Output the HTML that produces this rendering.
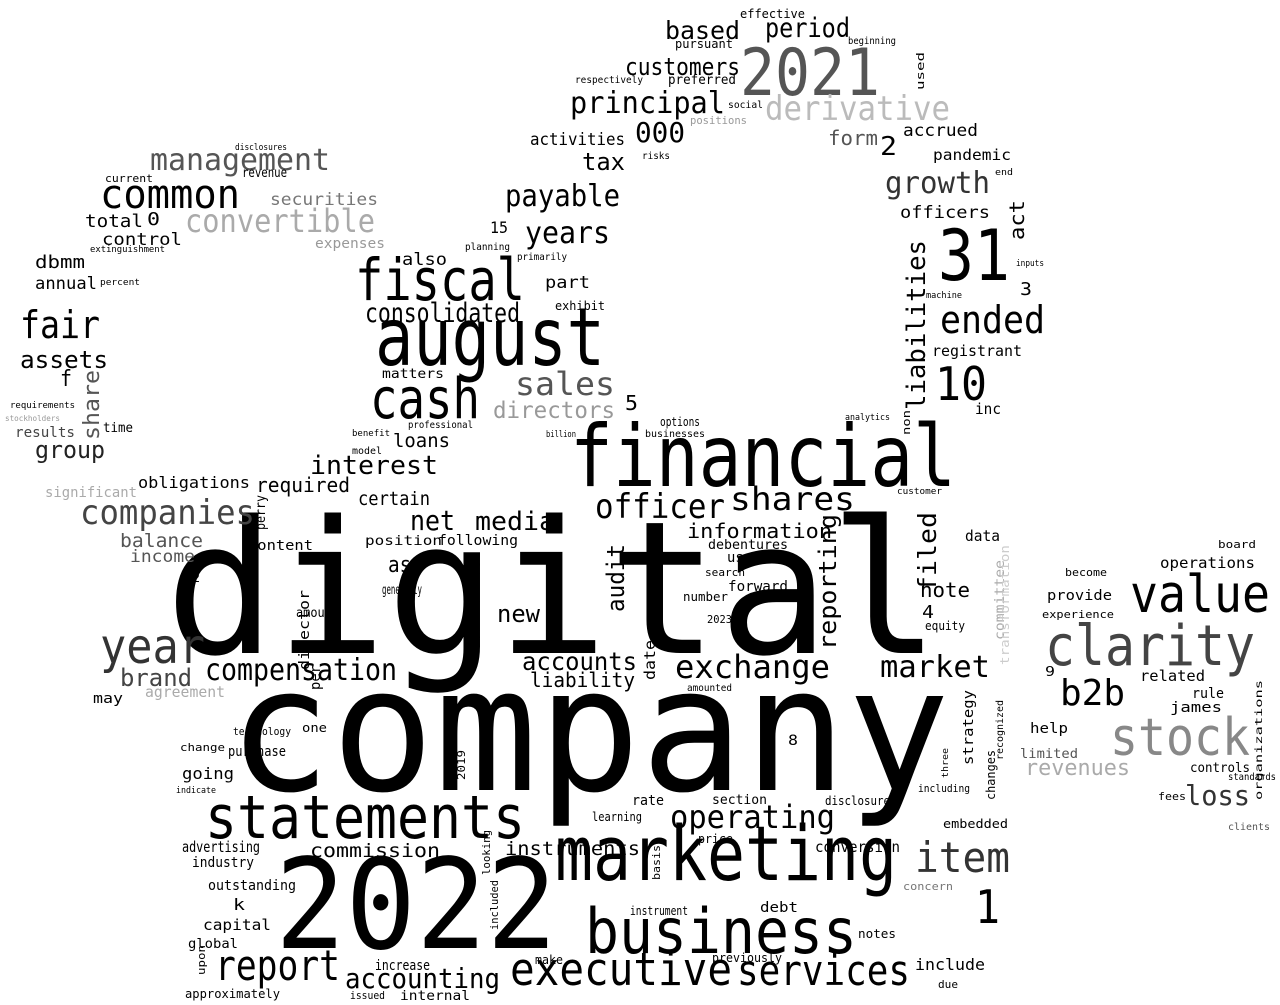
<!DOCTYPE html>
<html><head><meta charset="utf-8"><title>Word cloud</title>
<style>
html,body{margin:0;padding:0;background:#fff;}
svg{display:block;}
text{font-family:"DejaVu Sans Mono","Liberation Mono",monospace;}
</style></head>
<body>
<svg width="1280" height="1005" viewBox="0 0 1280 1005" xmlns="http://www.w3.org/2000/svg">
<rect width="1280" height="1005" fill="#fff"/>
<g fill="#000">
<text x="165" y="653" font-size="185" textLength="775" lengthAdjust="spacingAndGlyphs">digital</text>
<text x="228" y="790" font-size="172" textLength="722" lengthAdjust="spacingAndGlyphs">company</text>
<text x="275" y="948" font-size="125" textLength="282" lengthAdjust="spacingAndGlyphs">2022</text>
<text x="570" y="486" font-size="86" textLength="386" lengthAdjust="spacingAndGlyphs">financial</text>
<text x="555" y="880" font-size="76" textLength="342" lengthAdjust="spacingAndGlyphs">marketing</text>
<text x="585" y="953" font-size="62" textLength="272" lengthAdjust="spacingAndGlyphs">business</text>
<text x="205" y="838" font-size="60" textLength="320" lengthAdjust="spacingAndGlyphs">statements</text>
<text x="510" y="985" font-size="45" textLength="222" lengthAdjust="spacingAndGlyphs">executive</text>
<text x="737" y="985" font-size="42" textLength="173" lengthAdjust="spacingAndGlyphs">services</text>
<text x="215" y="980" font-size="42" textLength="125" lengthAdjust="spacingAndGlyphs">report</text>
<text x="345" y="988" font-size="28" textLength="155" lengthAdjust="spacingAndGlyphs">accounting</text>
<text x="375" y="365" font-size="80" textLength="230" lengthAdjust="spacingAndGlyphs">august</text>
<text x="355" y="300" font-size="58" textLength="170" lengthAdjust="spacingAndGlyphs">fiscal</text>
<text x="370" y="418" font-size="56" textLength="110" lengthAdjust="spacingAndGlyphs">cash</text>
<text x="740" y="95" font-size="65" textLength="140" lengthAdjust="spacingAndGlyphs" fill="#555">2021</text>
<text x="765" y="120" font-size="34" textLength="185" lengthAdjust="spacingAndGlyphs" fill="#bbb">derivative</text>
<text x="1130" y="612" font-size="52" textLength="140" lengthAdjust="spacingAndGlyphs">value</text>
<text x="1045" y="665" font-size="56" textLength="210" lengthAdjust="spacingAndGlyphs" fill="#444">clarity</text>
<text x="1110" y="755" font-size="52" textLength="140" lengthAdjust="spacingAndGlyphs" fill="#888">stock</text>
<text x="1060" y="705" font-size="36" textLength="65" lengthAdjust="spacingAndGlyphs">b2b</text>
<text x="100" y="663" font-size="48" textLength="105" lengthAdjust="spacingAndGlyphs" fill="#333">year</text>
<text x="100" y="208" font-size="40" textLength="140" lengthAdjust="spacingAndGlyphs">common</text>
<text x="150" y="170" font-size="30" textLength="180" lengthAdjust="spacingAndGlyphs" fill="#555">management</text>
<text x="185" y="232" font-size="32" textLength="190" lengthAdjust="spacingAndGlyphs" fill="#aaa">convertible</text>
<text x="20" y="338" font-size="38" textLength="80" lengthAdjust="spacingAndGlyphs">fair</text>
<text x="938" y="280" font-size="70" textLength="72" lengthAdjust="spacingAndGlyphs">31</text>
<text x="935" y="400" font-size="46" textLength="52" lengthAdjust="spacingAndGlyphs">10</text>
<text x="940" y="333" font-size="38" textLength="105" lengthAdjust="spacingAndGlyphs">ended</text>
<text x="915" y="872" font-size="42" textLength="95" lengthAdjust="spacingAndGlyphs" fill="#333">item</text>
<text x="975" y="923" font-size="46" textLength="25" lengthAdjust="spacingAndGlyphs">1</text>
<text x="675" y="678" font-size="32" textLength="155" lengthAdjust="spacingAndGlyphs">exchange</text>
<text x="205" y="680" font-size="30" textLength="192" lengthAdjust="spacingAndGlyphs">compensation</text>
<text x="80" y="524" font-size="34" textLength="175" lengthAdjust="spacingAndGlyphs" fill="#444">companies</text>
<text x="880" y="677" font-size="30" textLength="110" lengthAdjust="spacingAndGlyphs">market</text>
<text x="670" y="828" font-size="32" textLength="165" lengthAdjust="spacingAndGlyphs">operating</text>
<text x="595" y="518" font-size="34" textLength="130" lengthAdjust="spacingAndGlyphs">officer</text>
<text x="730" y="510" font-size="32" textLength="125" lengthAdjust="spacingAndGlyphs">shares</text>
<text x="570" y="113" font-size="30" textLength="155" lengthAdjust="spacingAndGlyphs">principal</text>
<text x="505" y="206" font-size="30" textLength="115" lengthAdjust="spacingAndGlyphs">payable</text>
<text x="525" y="243" font-size="30" textLength="85" lengthAdjust="spacingAndGlyphs">years</text>
<text x="365" y="322" font-size="27" textLength="155" lengthAdjust="spacingAndGlyphs">consolidated</text>
<text x="515" y="395" font-size="32" textLength="100" lengthAdjust="spacingAndGlyphs" fill="#555">sales</text>
<text x="885" y="193" font-size="30" textLength="105" lengthAdjust="spacingAndGlyphs" fill="#333">growth</text>
<text x="765" y="37" font-size="27" textLength="85" lengthAdjust="spacingAndGlyphs">period</text>
<text x="665" y="39" font-size="25" textLength="75" lengthAdjust="spacingAndGlyphs">based</text>
<text x="625" y="75" font-size="24" textLength="115" lengthAdjust="spacingAndGlyphs">customers</text>
<text x="310" y="474" font-size="26" textLength="128" lengthAdjust="spacingAndGlyphs">interest</text>
<text x="410" y="530" font-size="28" textLength="45" lengthAdjust="spacingAndGlyphs">net</text>
<text x="475" y="530" font-size="26" textLength="80" lengthAdjust="spacingAndGlyphs">media</text>
<text x="522" y="670" font-size="25" textLength="115" lengthAdjust="spacingAndGlyphs">accounts</text>
<text x="530" y="687" font-size="20" textLength="105" lengthAdjust="spacingAndGlyphs">liability</text>
<text x="120" y="686" font-size="24" textLength="72" lengthAdjust="spacingAndGlyphs" fill="#444">brand</text>
<text x="1025" y="775" font-size="22" textLength="105" lengthAdjust="spacingAndGlyphs" fill="#aaa">revenues</text>
<text x="1185" y="805" font-size="28" textLength="65" lengthAdjust="spacingAndGlyphs" fill="#333">loss</text>
<text x="635" y="142" font-size="28" textLength="50" lengthAdjust="spacingAndGlyphs">000</text>
<text x="493" y="418" font-size="23" textLength="122" lengthAdjust="spacingAndGlyphs" fill="#999">directors</text>
<text x="35" y="458" font-size="24" textLength="70" lengthAdjust="spacingAndGlyphs" fill="#222">group</text>
<text x="20" y="368" font-size="24" textLength="88" lengthAdjust="spacingAndGlyphs">assets</text>
<text x="582" y="170" font-size="24" textLength="43" lengthAdjust="spacingAndGlyphs">tax</text>
<text x="497" y="622" font-size="24" textLength="43" lengthAdjust="spacingAndGlyphs">new</text>
<text x="310" y="857" font-size="19" textLength="130" lengthAdjust="spacingAndGlyphs">commission</text>
<text x="505" y="855" font-size="19" textLength="135" lengthAdjust="spacingAndGlyphs">instruments</text>
<text x="815" y="852" font-size="15" textLength="85" lengthAdjust="spacingAndGlyphs">conversion</text>
<text x="358" y="505" font-size="19" textLength="72" lengthAdjust="spacingAndGlyphs">certain</text>
<text x="256" y="492" font-size="20" textLength="94" lengthAdjust="spacingAndGlyphs">required</text>
<text x="687" y="538" font-size="20" textLength="145" lengthAdjust="spacingAndGlyphs">information</text>
<text x="388" y="572" font-size="22" textLength="35" lengthAdjust="spacingAndGlyphs">asc</text>
<text x="920" y="597" font-size="20" textLength="50" lengthAdjust="spacingAndGlyphs">note</text>
<text x="915" y="970" font-size="16" textLength="70" lengthAdjust="spacingAndGlyphs">include</text>
<text x="393" y="447" font-size="19" textLength="57" lengthAdjust="spacingAndGlyphs">loans</text>
<text x="120" y="547" font-size="19" textLength="83" lengthAdjust="spacingAndGlyphs" fill="#555">balance</text>
<text x="130" y="562" font-size="17" textLength="65" lengthAdjust="spacingAndGlyphs" fill="#555">income</text>
<text x="145" y="697" font-size="15" textLength="80" lengthAdjust="spacingAndGlyphs" fill="#aaa">agreement</text>
<text x="45" y="497" font-size="14" textLength="92" lengthAdjust="spacingAndGlyphs" fill="#aaa">significant</text>
<text x="138" y="488" font-size="16" textLength="112" lengthAdjust="spacingAndGlyphs">obligations</text>
<text x="270" y="205" font-size="17" textLength="108" lengthAdjust="spacingAndGlyphs" fill="#777">securities</text>
<text x="315" y="248" font-size="14" textLength="70" lengthAdjust="spacingAndGlyphs" fill="#999">expenses</text>
<text x="85" y="227" font-size="18" textLength="58" lengthAdjust="spacingAndGlyphs">total</text>
<text x="147" y="225" font-size="18" textLength="13" lengthAdjust="spacingAndGlyphs">0</text>
<text x="102" y="245" font-size="17" textLength="80" lengthAdjust="spacingAndGlyphs">control</text>
<text x="35" y="268" font-size="18" textLength="50" lengthAdjust="spacingAndGlyphs">dbmm</text>
<text x="35" y="289" font-size="17" textLength="62" lengthAdjust="spacingAndGlyphs">annual</text>
<text x="60" y="386" font-size="22" textLength="12" lengthAdjust="spacingAndGlyphs">f</text>
<text x="15" y="437" font-size="14" textLength="60" lengthAdjust="spacingAndGlyphs" fill="#444">results</text>
<text x="103" y="432" font-size="13" textLength="30" lengthAdjust="spacingAndGlyphs">time</text>
<text x="530" y="145" font-size="17" textLength="95" lengthAdjust="spacingAndGlyphs">activities</text>
<text x="903" y="136" font-size="17" textLength="75" lengthAdjust="spacingAndGlyphs">accrued</text>
<text x="828" y="145" font-size="20" textLength="50" lengthAdjust="spacingAndGlyphs" fill="#555">form</text>
<text x="880" y="155" font-size="26" textLength="17" lengthAdjust="spacingAndGlyphs">2</text>
<text x="933" y="160" font-size="15" textLength="78" lengthAdjust="spacingAndGlyphs">pandemic</text>
<text x="900" y="218" font-size="17" textLength="90" lengthAdjust="spacingAndGlyphs">officers</text>
<text x="1020" y="295" font-size="18" textLength="12" lengthAdjust="spacingAndGlyphs">3</text>
<text x="932" y="356" font-size="15" textLength="90" lengthAdjust="spacingAndGlyphs">registrant</text>
<text x="975" y="414" font-size="15" textLength="26" lengthAdjust="spacingAndGlyphs">inc</text>
<text x="740" y="18" font-size="12" textLength="65" lengthAdjust="spacingAndGlyphs">effective</text>
<text x="675" y="48" font-size="12" textLength="58" lengthAdjust="spacingAndGlyphs">pursuant</text>
<text x="668" y="84" font-size="13" textLength="68" lengthAdjust="spacingAndGlyphs">preferred</text>
<text x="575" y="83" font-size="10" textLength="68" lengthAdjust="spacingAndGlyphs">respectively</text>
<text x="848" y="44" font-size="10" textLength="48" lengthAdjust="spacingAndGlyphs">beginning</text>
<text x="728" y="108" font-size="10" textLength="35" lengthAdjust="spacingAndGlyphs">social</text>
<text x="690" y="124" font-size="11" textLength="57" lengthAdjust="spacingAndGlyphs" fill="#999">positions</text>
<text x="490" y="233" font-size="16" textLength="18" lengthAdjust="spacingAndGlyphs">15</text>
<text x="402" y="265" font-size="17" textLength="45" lengthAdjust="spacingAndGlyphs">also</text>
<text x="545" y="288" font-size="17" textLength="45" lengthAdjust="spacingAndGlyphs">part</text>
<text x="555" y="310" font-size="12" textLength="50" lengthAdjust="spacingAndGlyphs">exhibit</text>
<text x="382" y="378" font-size="13" textLength="62" lengthAdjust="spacingAndGlyphs">matters</text>
<text x="625" y="410" font-size="20" textLength="13" lengthAdjust="spacingAndGlyphs">5</text>
<text x="660" y="426" font-size="12" textLength="40" lengthAdjust="spacingAndGlyphs">options</text>
<text x="645" y="437" font-size="10" textLength="60" lengthAdjust="spacingAndGlyphs">businesses</text>
<text x="408" y="428" font-size="10" textLength="65" lengthAdjust="spacingAndGlyphs">professional</text>
<text x="365" y="545" font-size="13" textLength="77" lengthAdjust="spacingAndGlyphs">position</text>
<text x="438" y="545" font-size="14" textLength="80" lengthAdjust="spacingAndGlyphs">following</text>
<text x="248" y="550" font-size="14" textLength="65" lengthAdjust="spacingAndGlyphs">content</text>
<text x="382" y="594" font-size="13" textLength="40" lengthAdjust="spacingAndGlyphs">generally</text>
<text x="296" y="617" font-size="13" textLength="43" lengthAdjust="spacingAndGlyphs">amount</text>
<text x="708" y="549" font-size="13" textLength="80" lengthAdjust="spacingAndGlyphs">debentures</text>
<text x="727" y="562" font-size="14" textLength="25" lengthAdjust="spacingAndGlyphs">use</text>
<text x="705" y="576" font-size="11" textLength="40" lengthAdjust="spacingAndGlyphs">search</text>
<text x="728" y="591" font-size="14" textLength="60" lengthAdjust="spacingAndGlyphs">forward</text>
<text x="683" y="601" font-size="12" textLength="45" lengthAdjust="spacingAndGlyphs">number</text>
<text x="707" y="623" font-size="11" textLength="25" lengthAdjust="spacingAndGlyphs">2023</text>
<text x="687" y="691" font-size="10" textLength="45" lengthAdjust="spacingAndGlyphs">amounted</text>
<text x="922" y="618" font-size="18" textLength="12" lengthAdjust="spacingAndGlyphs">4</text>
<text x="925" y="630" font-size="12" textLength="40" lengthAdjust="spacingAndGlyphs">equity</text>
<text x="965" y="541" font-size="15" textLength="35" lengthAdjust="spacingAndGlyphs">data</text>
<text x="1160" y="568" font-size="15" textLength="95" lengthAdjust="spacingAndGlyphs">operations</text>
<text x="1218" y="548" font-size="11" textLength="38" lengthAdjust="spacingAndGlyphs">board</text>
<text x="1047" y="600" font-size="14" textLength="65" lengthAdjust="spacingAndGlyphs">provide</text>
<text x="1065" y="576" font-size="11" textLength="42" lengthAdjust="spacingAndGlyphs">become</text>
<text x="1042" y="618" font-size="11" textLength="72" lengthAdjust="spacingAndGlyphs">experience</text>
<text x="1045" y="676" font-size="13" textLength="10" lengthAdjust="spacingAndGlyphs">9</text>
<text x="1140" y="681" font-size="15" textLength="65" lengthAdjust="spacingAndGlyphs">related</text>
<text x="1192" y="698" font-size="14" textLength="32" lengthAdjust="spacingAndGlyphs">rule</text>
<text x="1170" y="712" font-size="14" textLength="52" lengthAdjust="spacingAndGlyphs">james</text>
<text x="1030" y="733" font-size="14" textLength="38" lengthAdjust="spacingAndGlyphs">help</text>
<text x="1020" y="758" font-size="13" textLength="58" lengthAdjust="spacingAndGlyphs" fill="#555">limited</text>
<text x="1190" y="772" font-size="13" textLength="60" lengthAdjust="spacingAndGlyphs">controls</text>
<text x="1158" y="800" font-size="11" textLength="28" lengthAdjust="spacingAndGlyphs">fees</text>
<text x="1228" y="830" font-size="10" textLength="42" lengthAdjust="spacingAndGlyphs" fill="#555">clients</text>
<text x="1228" y="780" font-size="10" textLength="48" lengthAdjust="spacingAndGlyphs">standards</text>
<text x="93" y="703" font-size="14" textLength="30" lengthAdjust="spacingAndGlyphs">may</text>
<text x="185" y="582" font-size="12" textLength="15" lengthAdjust="spacingAndGlyphs">12</text>
<text x="182" y="779" font-size="16" textLength="52" lengthAdjust="spacingAndGlyphs">going</text>
<text x="228" y="756" font-size="14" textLength="58" lengthAdjust="spacingAndGlyphs">purchase</text>
<text x="233" y="735" font-size="11" textLength="58" lengthAdjust="spacingAndGlyphs">technology</text>
<text x="302" y="732" font-size="12" textLength="25" lengthAdjust="spacingAndGlyphs">one</text>
<text x="180" y="751" font-size="11" textLength="45" lengthAdjust="spacingAndGlyphs">change</text>
<text x="176" y="793" font-size="9" textLength="40" lengthAdjust="spacingAndGlyphs">indicate</text>
<text x="182" y="852" font-size="15" textLength="78" lengthAdjust="spacingAndGlyphs">advertising</text>
<text x="192" y="867" font-size="14" textLength="62" lengthAdjust="spacingAndGlyphs">industry</text>
<text x="208" y="890" font-size="14" textLength="88" lengthAdjust="spacingAndGlyphs">outstanding</text>
<text x="233" y="910" font-size="16" textLength="12" lengthAdjust="spacingAndGlyphs">k</text>
<text x="203" y="930" font-size="15" textLength="68" lengthAdjust="spacingAndGlyphs">capital</text>
<text x="188" y="948" font-size="13" textLength="50" lengthAdjust="spacingAndGlyphs">global</text>
<text x="185" y="998" font-size="12" textLength="95" lengthAdjust="spacingAndGlyphs">approximately</text>
<text x="632" y="805" font-size="14" textLength="32" lengthAdjust="spacingAndGlyphs">rate</text>
<text x="712" y="804" font-size="13" textLength="55" lengthAdjust="spacingAndGlyphs">section</text>
<text x="825" y="805" font-size="12" textLength="65" lengthAdjust="spacingAndGlyphs">disclosure</text>
<text x="592" y="821" font-size="12" textLength="50" lengthAdjust="spacingAndGlyphs">learning</text>
<text x="698" y="843" font-size="12" textLength="35" lengthAdjust="spacingAndGlyphs">price</text>
<text x="788" y="745" font-size="14" textLength="10" lengthAdjust="spacingAndGlyphs">8</text>
<text x="943" y="828" font-size="12" textLength="65" lengthAdjust="spacingAndGlyphs">embedded</text>
<text x="918" y="792" font-size="11" textLength="52" lengthAdjust="spacingAndGlyphs">including</text>
<text x="903" y="890" font-size="11" textLength="50" lengthAdjust="spacingAndGlyphs" fill="#777">concern</text>
<text x="760" y="912" font-size="14" textLength="38" lengthAdjust="spacingAndGlyphs">debt</text>
<text x="630" y="915" font-size="12" textLength="58" lengthAdjust="spacingAndGlyphs">instrument</text>
<text x="858" y="938" font-size="12" textLength="38" lengthAdjust="spacingAndGlyphs">notes</text>
<text x="712" y="962" font-size="12" textLength="70" lengthAdjust="spacingAndGlyphs">previously</text>
<text x="375" y="970" font-size="14" textLength="55" lengthAdjust="spacingAndGlyphs">increase</text>
<text x="535" y="964" font-size="12" textLength="28" lengthAdjust="spacingAndGlyphs">make</text>
<text x="400" y="1000" font-size="13" textLength="70" lengthAdjust="spacingAndGlyphs">internal</text>
<text x="350" y="999" font-size="11" textLength="35" lengthAdjust="spacingAndGlyphs">issued</text>
<text x="938" y="988" font-size="11" textLength="20" lengthAdjust="spacingAndGlyphs">due</text>
<text x="1016" y="266" font-size="9" textLength="28" lengthAdjust="spacingAndGlyphs">inputs</text>
<text x="926" y="298" font-size="9" textLength="36" lengthAdjust="spacingAndGlyphs">machine</text>
<text x="235" y="150" font-size="9" textLength="52" lengthAdjust="spacingAndGlyphs">disclosures</text>
<text x="242" y="177" font-size="13" textLength="45" lengthAdjust="spacingAndGlyphs">revenue</text>
<text x="105" y="182" font-size="11" textLength="48" lengthAdjust="spacingAndGlyphs">current</text>
<text x="90" y="252" font-size="9" textLength="75" lengthAdjust="spacingAndGlyphs">extinguishment</text>
<text x="100" y="285" font-size="9" textLength="40" lengthAdjust="spacingAndGlyphs">percent</text>
<text x="10" y="408" font-size="9" textLength="65" lengthAdjust="spacingAndGlyphs">requirements</text>
<text x="5" y="421" font-size="8" textLength="55" lengthAdjust="spacingAndGlyphs" fill="#999">stockholders</text>
<text x="642" y="159" font-size="10" textLength="28" lengthAdjust="spacingAndGlyphs">risks</text>
<text x="465" y="250" font-size="10" textLength="45" lengthAdjust="spacingAndGlyphs">planning</text>
<text x="517" y="260" font-size="10" textLength="50" lengthAdjust="spacingAndGlyphs">primarily</text>
<text x="352" y="436" font-size="9" textLength="38" lengthAdjust="spacingAndGlyphs">benefit</text>
<text x="352" y="454" font-size="10" textLength="30" lengthAdjust="spacingAndGlyphs">model</text>
<text x="546" y="437" font-size="9" textLength="30" lengthAdjust="spacingAndGlyphs">billion</text>
<text x="845" y="420" font-size="9" textLength="45" lengthAdjust="spacingAndGlyphs">analytics</text>
<text x="897" y="494" font-size="9" textLength="45" lengthAdjust="spacingAndGlyphs">customer</text>
<text x="995" y="175" font-size="9" textLength="18" lengthAdjust="spacingAndGlyphs">end</text>
</g>
<g fill="#000">
<text transform="translate(925,410) rotate(-90)" font-size="26" textLength="170" lengthAdjust="spacingAndGlyphs">liabilities</text>
<text transform="translate(936,592) rotate(-90)" font-size="25" textLength="80" lengthAdjust="spacingAndGlyphs">filed</text>
<text transform="translate(624,612) rotate(-90)" font-size="24" textLength="68" lengthAdjust="spacingAndGlyphs">audit</text>
<text transform="translate(836,650) rotate(-90)" font-size="24" textLength="136" lengthAdjust="spacingAndGlyphs">reporting</text>
<text transform="translate(99,440) rotate(-90)" font-size="22" textLength="70" lengthAdjust="spacingAndGlyphs" fill="#555">share</text>
<text transform="translate(1024,240) rotate(-90)" font-size="20" textLength="40" lengthAdjust="spacingAndGlyphs">act</text>
<text transform="translate(309,670) rotate(-90)" font-size="14" textLength="80" lengthAdjust="spacingAndGlyphs">director</text>
<text transform="translate(655,680) rotate(-90)" font-size="15" textLength="40" lengthAdjust="spacingAndGlyphs">date</text>
<text transform="translate(320,690) rotate(-90)" font-size="14" textLength="25" lengthAdjust="spacingAndGlyphs">per</text>
<text transform="translate(265,530) rotate(-90)" font-size="13" textLength="35" lengthAdjust="spacingAndGlyphs">perry</text>
<text transform="translate(1004,640) rotate(-90)" font-size="13" textLength="80" lengthAdjust="spacingAndGlyphs" fill="#aaa">committee</text>
<text transform="translate(1009,665) rotate(-90)" font-size="12" textLength="120" lengthAdjust="spacingAndGlyphs" fill="#ccc">transformation</text>
<text transform="translate(973,765) rotate(-90)" font-size="14" textLength="75" lengthAdjust="spacingAndGlyphs">strategy</text>
<text transform="translate(995,800) rotate(-90)" font-size="12" textLength="50" lengthAdjust="spacingAndGlyphs">changes</text>
<text transform="translate(1262,800) rotate(-90)" font-size="10" textLength="120" lengthAdjust="spacingAndGlyphs">organizations</text>
<text transform="translate(924,90) rotate(-90)" font-size="11" textLength="38" lengthAdjust="spacingAndGlyphs">used</text>
<text transform="translate(910,435) rotate(-90)" font-size="11" textLength="25" lengthAdjust="spacingAndGlyphs">non</text>
<text transform="translate(465,780) rotate(-90)" font-size="11" textLength="30" lengthAdjust="spacingAndGlyphs">2019</text>
<text transform="translate(205,975) rotate(-90)" font-size="11" textLength="30" lengthAdjust="spacingAndGlyphs">upon</text>
<text transform="translate(498,930) rotate(-90)" font-size="11" textLength="50" lengthAdjust="spacingAndGlyphs">included</text>
<text transform="translate(490,875) rotate(-90)" font-size="11" textLength="45" lengthAdjust="spacingAndGlyphs">looking</text>
<text transform="translate(660,880) rotate(-90)" font-size="11" textLength="35" lengthAdjust="spacingAndGlyphs">basis</text>
<text transform="translate(1003,760) rotate(-90)" font-size="10" textLength="60" lengthAdjust="spacingAndGlyphs">recognized</text>
<text transform="translate(948,778) rotate(-90)" font-size="9" textLength="30" lengthAdjust="spacingAndGlyphs">three</text>
</g>
</svg>
</body></html>
